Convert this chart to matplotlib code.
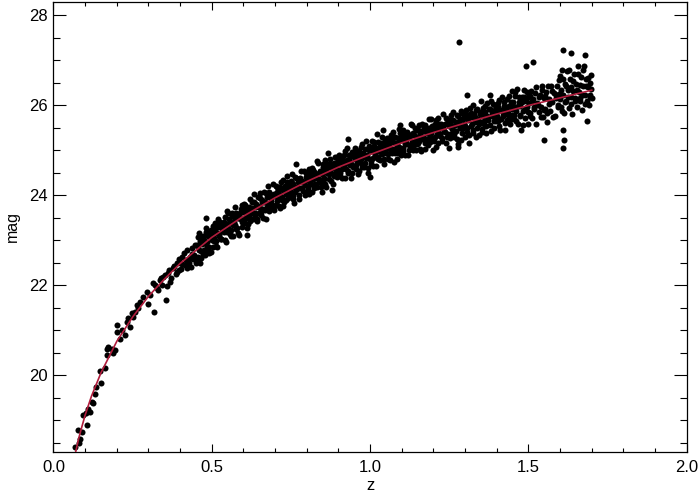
import numpy as np
import matplotlib
matplotlib.use("Agg")
import matplotlib.pyplot as plt
from matplotlib.ticker import MultipleLocator

# ---------------------------------------------------------------------------
# Data
# ---------------------------------------------------------------------------
# model curve (z, mag)
CURVE_Z = [0.065, 0.07, 0.08, 0.09, 0.10, 0.12, 0.15, 0.20, 0.25, 0.30, 0.35,
           0.40, 0.50, 0.60, 0.70, 0.80, 0.90, 1.00, 1.10, 1.20, 1.30, 1.40,
           1.50, 1.60, 1.70]
CURVE_MAG = [18.12, 18.29, 18.60, 18.86, 19.11, 19.53, 20.05, 20.75, 21.29,
             21.75, 22.13, 22.48, 23.06, 23.53, 23.94, 24.30, 24.62, 24.90,
             25.16, 25.39, 25.60, 25.80, 25.99, 26.16, 26.33]

# low redshift points
LOWZ = [
    (0.068, 18.41), (0.081, 18.48), (0.084, 18.59), (0.078, 18.78), (0.089, 18.74),
    (0.094, 19.11), (0.103, 19.15), (0.105, 18.89), (0.110, 19.24), (0.115, 19.18),
    (0.121, 19.41), (0.126, 19.37), (0.131, 19.59), (0.134, 19.74), (0.147, 20.10),
    (0.149, 19.82), (0.163, 20.15), (0.168, 20.59), (0.173, 20.63), (0.170, 20.44),
    (0.184, 20.59), (0.194, 20.56), (0.189, 20.48), (0.200, 21.11), (0.202, 20.96),
    (0.210, 20.81), (0.215, 21.00), (0.226, 20.89), (0.231, 21.18), (0.236, 21.26),
    (0.242, 21.07), (0.247, 21.37), (0.252, 21.30), (0.257, 21.41), (0.263, 21.56),
    (0.268, 21.48), (0.273, 21.63), (0.284, 21.74), (0.294, 21.85), (0.299, 21.59),
    (0.305, 21.78), (0.315, 22.04), (0.317, 21.41), (0.326, 21.93), (0.336, 22.11),
    (0.347, 22.18), (0.355, 21.67), (0.363, 22.26), (0.368, 22.07), (0.378, 22.37),
    (0.389, 22.30), (0.400, 22.48), (0.405, 22.63), (0.421, 22.37), (0.426, 22.56),
    (0.437, 22.70), (0.452, 22.56), (0.463, 22.48), (0.479, 22.67), (0.484, 22.78),
    (0.322, 22.00), (0.331, 21.88), (0.340, 22.16), (0.344, 22.00), (0.352, 22.22),
    (0.358, 21.98), (0.366, 22.33), (0.372, 22.15), (0.382, 22.42), (0.386, 22.25),
    (0.391, 22.50), (0.395, 22.33), (0.398, 22.58), (0.402, 22.36), (0.407, 22.47),
    (0.411, 22.71), (0.414, 22.44), (0.418, 22.56), (0.423, 22.79), (0.427, 22.49),
    (0.431, 22.62), (0.434, 22.41), (0.438, 22.83), (0.441, 22.58), (0.444, 22.66),
    (0.447, 22.90), (0.449, 22.50),
]

MIDZ_A = [
    (0.452, 22.89), (0.455, 22.63), (0.458, 23.07), (0.461, 22.79), (0.463, 22.99),
    (0.466, 22.60), (0.469, 22.92), (0.471, 23.10), (0.474, 22.79), (0.476, 23.01),
    (0.479, 22.74), (0.482, 23.26), (0.484, 22.95), (0.487, 23.11), (0.490, 22.85),
    (0.493, 23.07), (0.496, 22.74), (0.498, 23.23),
    (0.501, 23.13), (0.503, 22.85), (0.506, 23.28), (0.508, 23.04), (0.511, 23.39),
    (0.513, 22.98), (0.516, 23.16), (0.518, 22.84), (0.521, 23.29), (0.524, 23.09),
    (0.526, 23.40), (0.529, 23.02), (0.532, 23.25), (0.535, 23.21), (0.538, 23.40),
    (0.541, 23.01), (0.544, 23.36), (0.547, 23.18), (0.549, 23.65),
    (0.551, 23.26), (0.553, 23.46), (0.556, 23.13), (0.558, 23.40), (0.561, 23.22),
    (0.563, 23.60), (0.566, 23.09), (0.569, 23.40), (0.571, 23.51), (0.574, 23.33),
    (0.577, 23.61), (0.579, 23.27), (0.582, 23.49), (0.585, 23.12), (0.588, 23.61),
    (0.591, 23.46), (0.594, 23.77), (0.597, 23.40),
    (0.601, 23.62), (0.603, 23.37), (0.606, 23.77), (0.608, 23.51), (0.611, 23.60),
    (0.614, 23.35), (0.616, 23.74), (0.619, 23.51), (0.622, 23.92), (0.624, 23.62),
    (0.627, 23.72), (0.630, 23.47), (0.633, 23.84), (0.636, 23.61), (0.639, 23.74),
    (0.642, 23.42), (0.645, 23.95), (0.648, 23.60),
    (0.651, 23.72), (0.653, 23.93), (0.656, 23.55), (0.659, 23.85), (0.661, 23.69),
    (0.664, 24.06), (0.667, 23.66), (0.669, 23.85), (0.672, 23.46), (0.675, 23.96),
    (0.678, 23.80), (0.680, 24.06), (0.683, 23.69), (0.686, 23.94), (0.689, 23.79),
    (0.692, 24.24), (0.695, 23.66), (0.698, 24.03),
    (0.701, 23.99), (0.703, 23.79), (0.706, 24.18), (0.709, 23.91), (0.711, 24.11),
    (0.714, 23.72), (0.717, 24.01), (0.719, 24.29), (0.722, 23.90), (0.725, 24.11),
    (0.728, 23.84), (0.731, 24.21), (0.734, 24.03), (0.737, 24.43), (0.740, 23.94),
    (0.743, 24.15), (0.746, 24.02), (0.749, 24.31),
]

MIDZ_B = [
    (0.751, 24.07), (0.754, 24.27), (0.756, 23.92), (0.759, 24.19), (0.762, 24.40),
    (0.764, 24.06), (0.767, 24.68), (0.770, 24.17), (0.772, 24.30), (0.775, 23.91),
    (0.778, 24.39), (0.781, 24.15), (0.784, 24.31), (0.787, 24.08), (0.790, 24.53),
    (0.793, 24.23), (0.796, 24.41), (0.799, 24.05),
    (0.801, 24.33), (0.804, 24.12), (0.806, 24.50), (0.809, 24.26), (0.812, 24.43),
    (0.815, 24.07), (0.817, 24.60), (0.820, 24.35), (0.823, 24.51), (0.826, 24.25),
    (0.829, 24.44), (0.832, 24.17), (0.835, 24.72), (0.838, 24.36), (0.841, 24.54),
    (0.844, 24.28), (0.847, 24.47), (0.849, 24.06),
    (0.851, 24.62), (0.854, 24.38), (0.856, 24.52), (0.859, 24.25), (0.862, 24.71),
    (0.865, 24.49), (0.868, 24.62), (0.871, 24.36), (0.873, 24.81), (0.876, 24.48),
    (0.879, 24.62), (0.882, 24.25), (0.885, 24.72), (0.888, 24.47), (0.891, 24.60),
    (0.894, 24.84), (0.897, 24.41), (0.899, 24.70),
    (0.901, 24.56), (0.904, 24.82), (0.906, 24.49), (0.909, 24.70), (0.912, 24.39),
    (0.915, 24.79), (0.918, 24.64), (0.920, 24.98), (0.923, 24.58), (0.926, 24.77),
    (0.929, 24.49), (0.932, 24.88), (0.935, 24.67), (0.938, 24.74), (0.941, 24.38),
    (0.944, 24.96), (0.947, 24.63), (0.949, 24.87),
    (0.951, 24.80), (0.954, 24.59), (0.956, 25.01), (0.959, 24.72), (0.962, 24.91),
    (0.965, 24.53), (0.968, 24.87), (0.970, 24.81), (0.973, 25.14), (0.976, 24.69),
    (0.979, 24.93), (0.982, 24.63), (0.985, 25.02), (0.988, 24.83), (0.991, 24.89),
    (0.994, 24.50), (0.997, 25.09), (0.999, 24.80),
    (1.001, 25.03), (1.004, 24.75), (1.007, 24.97), (1.010, 24.64), (1.013, 25.19),
    (1.016, 24.89), (1.019, 25.04), (1.022, 25.36), (1.025, 24.84), (1.028, 24.99),
    (1.031, 24.78), (1.034, 25.16), (1.037, 24.92), (1.040, 25.07), (1.043, 24.68),
    (1.046, 25.23), (1.048, 25.00), (1.049, 25.14),
]

MIDZ_C = [
    (0.4535, 22.55), (0.457, 22.87), (0.460, 23.16), (0.4645, 22.76), (0.468, 23.06),
    (0.4725, 22.68), (0.477, 22.93), (0.4805, 23.19), (0.4855, 22.85), (0.489, 23.09),
    (0.4925, 22.72), (0.4955, 23.18), (0.4995, 23.01),
    (0.5025, 23.31), (0.5055, 22.99), (0.5095, 23.21), (0.5145, 22.86), (0.5195, 23.46),
    (0.5225, 23.14), (0.5275, 23.33), (0.5305, 23.02), (0.5365, 23.30), (0.5395, 23.17),
    (0.5425, 23.52), (0.5455, 22.95), (0.5485, 23.32),
    (0.5525, 23.60), (0.5545, 23.20), (0.5575, 23.41), (0.5605, 23.10), (0.5645, 23.54),
    (0.5675, 23.33), (0.5725, 23.73), (0.5755, 23.25), (0.5805, 23.54), (0.5835, 23.16),
    (0.5865, 23.49), (0.5925, 23.69), (0.5955, 23.30),
    (0.6025, 23.81), (0.6045, 23.46), (0.6075, 23.68), (0.6125, 23.27), (0.6175, 23.66),
    (0.6205, 23.42), (0.6255, 23.84), (0.6285, 23.61), (0.6345, 24.03), (0.6375, 23.54),
    (0.6405, 23.80), (0.6435, 23.47), (0.6465, 23.75),
    (0.6525, 24.05), (0.6545, 23.62), (0.6575, 23.89), (0.6625, 23.49), (0.6655, 23.84),
    (0.6705, 24.04), (0.6735, 23.73), (0.6765, 24.20), (0.6815, 23.64), (0.6845, 24.03),
    (0.6875, 23.87), (0.6935, 23.99), (0.6965, 23.75),
    (0.7025, 24.20), (0.7045, 23.86), (0.7075, 24.06), (0.7125, 23.76), (0.7155, 24.17),
    (0.7205, 23.96), (0.7235, 24.33), (0.7265, 23.75), (0.7325, 24.10), (0.7355, 23.90),
    (0.7385, 24.30), (0.7445, 24.02), (0.7475, 24.23),
    (0.7525, 24.46), (0.7555, 23.99), (0.7575, 24.24), (0.7605, 23.82), (0.7655, 24.38),
    (0.7685, 24.13), (0.7735, 24.35), (0.7765, 24.01), (0.7825, 24.54), (0.7855, 24.15),
    (0.7885, 24.29), (0.7945, 24.01), (0.7975, 24.48),
    (0.8025, 24.19), (0.8055, 24.58), (0.8075, 24.02), (0.8105, 24.39), (0.8135, 24.25),
    (0.8185, 24.56), (0.8215, 24.16), (0.8245, 24.50), (0.8305, 24.38), (0.8335, 24.76),
    (0.8395, 24.29), (0.8425, 24.51), (0.8455, 24.19),
    (0.8525, 24.69), (0.8555, 24.35), (0.8575, 24.78), (0.8605, 24.17), (0.8635, 24.61),
    (0.8695, 24.47), (0.8725, 24.70), (0.8775, 24.32), (0.8805, 24.60), (0.8865, 24.43),
    (0.8895, 24.84), (0.8925, 24.52), (0.8955, 24.74),
    (0.9025, 24.89), (0.9055, 24.42), (0.9075, 24.74), (0.9105, 24.57), (0.9165, 24.88),
    (0.9195, 24.37), (0.9245, 24.72), (0.9275, 25.05), (0.9305, 24.54), (0.9365, 24.84),
    (0.9395, 24.68), (0.9425, 24.49), (0.9485, 24.93),
    (0.9525, 25.05), (0.9555, 24.67), (0.9575, 24.85), (0.9605, 24.47), (0.9635, 24.99),
    (0.9665, 24.77), (0.9715, 25.07), (0.9745, 24.63), (0.9775, 24.86), (0.9835, 24.72),
    (0.9865, 25.20), (0.9925, 24.61), (0.9955, 25.00),
    (1.0025, 24.69), (1.0055, 25.20), (1.0085, 24.83), (1.0115, 25.08), (1.0175, 24.64),
    (1.0205, 24.99), (1.0235, 25.18), (1.0265, 24.81), (1.0325, 25.08), (1.0355, 24.96),
    (1.0385, 25.30), (1.0445, 24.81), (1.0475, 25.09),
]

HIGHZ_A = [
    (1.051, 24.94), (1.054, 25.19), (1.057, 24.81), (1.060, 25.10), (1.063, 25.03),
    (1.066, 25.34), (1.069, 24.93), (1.072, 25.19), (1.075, 24.73), (1.078, 25.29),
    (1.081, 25.05), (1.084, 25.13), (1.087, 24.94), (1.090, 25.46), (1.093, 25.03),
    (1.096, 25.23), (1.099, 24.89), (1.098, 25.30),
    (1.101, 25.22), (1.104, 25.04), (1.107, 25.40), (1.110, 24.88), (1.113, 25.22),
    (1.116, 25.13), (1.119, 25.36), (1.122, 25.00), (1.125, 25.31), (1.128, 25.59),
    (1.131, 25.19), (1.134, 25.07), (1.137, 25.37), (1.140, 25.17), (1.143, 25.50),
    (1.146, 25.01), (1.148, 25.29), (1.149, 25.14),
    (1.151, 25.45), (1.154, 25.21), (1.157, 25.35), (1.160, 24.98), (1.163, 25.59),
    (1.166, 25.30), (1.169, 25.42), (1.172, 25.15), (1.175, 25.55), (1.178, 25.24),
    (1.181, 25.39), (1.184, 25.12), (1.187, 25.50), (1.190, 25.32), (1.193, 25.68),
    (1.196, 25.23), (1.198, 25.46), (1.199, 25.01),
    (1.201, 25.50), (1.204, 25.28), (1.207, 25.66), (1.210, 25.35), (1.213, 25.44),
    (1.216, 25.16), (1.219, 25.59), (1.222, 25.35), (1.225, 25.51), (1.228, 25.26),
    (1.231, 25.80), (1.234, 25.43), (1.237, 25.59), (1.240, 25.15), (1.243, 25.68),
    (1.246, 25.36), (1.248, 25.53), (1.249, 25.05),
    (1.251, 25.58), (1.254, 25.35), (1.257, 25.78), (1.260, 25.47), (1.263, 25.67),
    (1.266, 25.28), (1.269, 25.56), (1.272, 25.43), (1.275, 25.77), (1.278, 25.14),
    (1.281, 25.62), (1.284, 25.49), (1.287, 25.87), (1.290, 25.38), (1.293, 25.70),
    (1.296, 25.57), (1.298, 25.77), (1.299, 25.30),
    (1.301, 25.54), (1.304, 25.80), (1.307, 25.40), (1.310, 25.66), (1.313, 25.15),
    (1.316, 25.94), (1.319, 25.54), (1.322, 25.73), (1.325, 25.37), (1.328, 25.81),
    (1.331, 25.63), (1.334, 25.90), (1.337, 25.50), (1.340, 25.69), (1.343, 25.34),
    (1.346, 25.81), (1.348, 25.62), (1.349, 26.08),
]

HIGHZ_B = [
    (1.351, 25.80), (1.354, 25.47), (1.357, 25.76), (1.360, 25.59), (1.363, 25.99),
    (1.366, 25.37), (1.369, 25.76), (1.372, 25.67), (1.375, 25.92), (1.378, 25.56),
    (1.381, 26.09), (1.384, 25.75), (1.387, 25.86), (1.390, 25.49), (1.393, 26.00),
    (1.396, 25.68), (1.398, 25.86), (1.399, 25.64),
    (1.401, 25.76), (1.404, 26.05), (1.407, 25.54), (1.410, 25.90), (1.413, 25.69),
    (1.416, 26.18), (1.419, 25.83), (1.422, 25.98), (1.425, 25.45), (1.428, 25.89),
    (1.431, 25.67), (1.434, 26.14), (1.437, 25.79), (1.440, 25.99), (1.443, 25.58),
    (1.446, 26.07), (1.448, 25.78), (1.449, 26.32),
    (1.451, 25.97), (1.454, 25.69), (1.457, 26.20), (1.460, 25.86), (1.463, 26.36),
    (1.466, 25.58), (1.469, 26.07), (1.472, 25.79), (1.475, 25.97), (1.478, 25.45),
    (1.481, 26.18), (1.484, 25.87), (1.487, 26.33), (1.490, 25.71), (1.493, 26.08),
    (1.496, 25.95), (1.498, 26.18), (1.499, 25.58),
    (1.502, 26.04), (1.505, 25.82), (1.508, 26.31), (1.511, 25.71), (1.514, 26.14),
    (1.517, 25.95), (1.520, 26.27), (1.524, 25.59), (1.528, 26.05), (1.532, 25.84),
    (1.536, 26.22), (1.540, 25.95), (1.544, 26.42), (1.547, 25.74), (1.549, 26.16),
    (1.552, 25.92), (1.556, 26.30), (1.560, 25.62), (1.564, 26.13), (1.568, 25.86),
    (1.572, 26.42), (1.576, 26.06), (1.580, 26.27), (1.584, 25.76), (1.588, 26.23),
    (1.592, 25.96), (1.596, 26.55), (1.599, 26.14),
    (1.601, 26.64), (1.603, 25.96), (1.606, 26.79), (1.609, 26.23), (1.612, 25.83),
    (1.615, 26.46), (1.618, 26.10), (1.621, 26.75), (1.624, 26.33), (1.627, 25.93),
    (1.630, 26.57), (1.633, 26.18), (1.636, 26.40), (1.639, 25.80), (1.642, 26.32),
    (1.645, 26.69), (1.648, 26.10),
    (1.651, 26.47), (1.654, 25.95), (1.657, 26.86), (1.660, 26.30), (1.663, 26.15),
    (1.666, 26.62), (1.669, 25.88), (1.672, 26.43), (1.675, 26.87), (1.678, 26.22),
    (1.681, 26.57), (1.684, 26.08), (1.687, 26.40), (1.690, 26.00), (1.693, 26.50),
    (1.696, 26.22), (1.699, 26.66), (1.700, 26.15),
]

HIGHZ_C = [
    (1.0525, 25.27), (1.0555, 24.92), (1.0585, 25.14), (1.0615, 24.78), (1.0675, 25.24),
    (1.0705, 25.03), (1.0735, 25.40), (1.0795, 24.93), (1.0825, 25.16), (1.0855, 24.80),
    (1.0885, 25.27), (1.0915, 25.06), (1.0945, 25.38),
    (1.1025, 25.45), (1.1055, 24.98), (1.1085, 25.30), (1.1115, 25.13), (1.1175, 25.40),
    (1.1205, 24.88), (1.1235, 25.28), (1.1265, 25.10), (1.1325, 25.56), (1.1355, 25.01),
    (1.1385, 25.34), (1.1445, 25.23), (1.1475, 25.44),
    (1.1525, 25.15), (1.1555, 25.55), (1.1585, 25.03), (1.1615, 25.42), (1.1645, 25.25),
    (1.1705, 25.52), (1.1735, 25.03), (1.1795, 25.42), (1.1825, 25.24), (1.1855, 25.69),
    (1.1885, 25.17), (1.1915, 25.39), (1.1945, 25.54),
    (1.2025, 25.20), (1.2055, 25.59), (1.2085, 25.06), (1.2115, 25.50), (1.2145, 25.72),
    (1.2205, 25.31), (1.2235, 25.57), (1.2265, 25.21), (1.2295, 25.48), (1.2355, 25.40),
    (1.2385, 25.72), (1.2415, 25.30), (1.2445, 25.59),
    (1.2525, 25.26), (1.2555, 25.67), (1.2585, 25.50), (1.2615, 25.85), (1.2645, 25.36),
    (1.2705, 25.63), (1.2735, 25.25), (1.2765, 25.75), (1.2825, 25.52), (1.2855, 25.69),
    (1.2885, 25.22), (1.2915, 25.83), (1.2945, 25.49),
    (1.3025, 25.88), (1.3055, 25.48), (1.3085, 25.73), (1.3115, 25.33), (1.3175, 25.82),
    (1.3205, 25.59), (1.3235, 26.01), (1.3265, 25.45), (1.3325, 25.73), (1.3355, 25.30),
    (1.3385, 25.91), (1.3445, 25.58), (1.3475, 25.84),
    (1.3525, 25.41), (1.3555, 25.93), (1.3585, 25.64), (1.3615, 25.84), (1.3675, 25.53),
    (1.3705, 26.04), (1.3735, 25.73), (1.3795, 25.92), (1.3825, 25.42), (1.3855, 25.82),
    (1.3885, 26.03), (1.3915, 25.64), (1.3945, 25.89),
    (1.4025, 25.95), (1.4055, 25.65), (1.4085, 26.12), (1.4115, 25.44), (1.4175, 25.89),
    (1.4205, 25.75), (1.4235, 26.07), (1.4265, 25.60), (1.4325, 25.96), (1.4355, 25.83),
    (1.4385, 26.21), (1.4445, 25.68), (1.4475, 25.91),
    (1.4525, 26.06), (1.4555, 25.79), (1.4585, 26.30), (1.4615, 25.64), (1.4675, 25.97),
    (1.4705, 26.19), (1.4735, 25.75), (1.4795, 26.07), (1.4825, 25.56), (1.4855, 26.18),
    (1.4885, 25.91), (1.4945, 26.28), (1.4975, 25.84),
    (1.5035, 26.20), (1.5065, 25.75), (1.5125, 26.10), (1.5185, 25.91), (1.5225, 26.40),
    (1.5305, 26.00), (1.5345, 26.19), (1.5385, 25.73), (1.5425, 26.33), (1.5485, 25.90),
    (1.5535, 26.20), (1.5585, 25.83), (1.5625, 26.43), (1.5665, 26.03), (1.5745, 26.31),
    (1.5785, 25.73), (1.5865, 26.16), (1.5905, 26.42), (1.5945, 26.00), (1.5975, 26.24),
    (1.6045, 26.33), (1.6075, 25.87), (1.6105, 26.58), (1.6165, 26.07), (1.6195, 26.42),
    (1.6255, 26.18), (1.6285, 26.79), (1.6345, 26.02), (1.6405, 26.53), (1.6465, 26.16),
    (1.6525, 26.33), (1.6555, 26.68), (1.6615, 26.09), (1.6645, 26.45), (1.6705, 26.23),
    (1.6735, 26.79), (1.6795, 26.03), (1.6825, 26.42), (1.6885, 26.61), (1.6945, 26.18),
    (1.6975, 26.36),
]

OUTLIERS = [
    (1.281, 27.40), (1.494, 26.87), (1.515, 26.96), (1.610, 27.22), (1.634, 27.16),
    (1.678, 27.12), (1.549, 25.22), (1.612, 25.22), (1.610, 25.04), (1.686, 25.64),
    (1.608, 25.44), (1.279, 25.07), (0.482, 23.48), (0.999, 24.41), (1.305, 26.22),
    (1.379, 26.22), (1.042, 25.44), (1.094, 25.56), (0.931, 25.24), (0.868, 24.94),
    (0.879, 24.11), (0.610, 23.11),
]

LINE_COLOR = "#b01c3c"

# ---------------------------------------------------------------------------
# Plot
# ---------------------------------------------------------------------------
plt.rcParams["font.family"] = ["Liberation Sans", "DejaVu Sans"]

fig = plt.figure(figsize=(7, 5), dpi=100)
ax = fig.add_axes([0.0764, 0.096, 0.9046, 0.9])

pts = np.array(LOWZ + MIDZ_A + MIDZ_B + MIDZ_C + HIGHZ_A + HIGHZ_B + HIGHZ_C + OUTLIERS)
ax.scatter(pts[:, 0], pts[:, 1], s=19, c="black", linewidths=0, zorder=2)
ax.plot(CURVE_Z, CURVE_MAG, color=LINE_COLOR, lw=1.2, zorder=3)

ax.set_xlim(0.0, 2.0)
ax.set_ylim(18.29, 28.29)
ax.xaxis.set_major_locator(MultipleLocator(0.5))
ax.xaxis.set_minor_locator(MultipleLocator(0.1))
ax.yaxis.set_major_locator(MultipleLocator(2))
ax.yaxis.set_minor_locator(MultipleLocator(0.5))
ax.xaxis.set_major_formatter(plt.FormatStrFormatter("%.1f"))

ax.tick_params(axis="both", which="both", direction="in", top=True, right=True,
               width=0.8, labelsize=12)
ax.tick_params(axis="x", which="major", length=5.8, pad=6)
ax.tick_params(axis="x", which="minor", length=3)
ax.tick_params(axis="y", which="major", length=9.4, pad=4)
ax.tick_params(axis="y", which="minor", length=5)
for sp in ax.spines.values():
    sp.set_linewidth(0.9)

ax.set_xlabel("z", fontsize=12, labelpad=2)
ax.set_ylabel("mag", fontsize=11.5, labelpad=7)

fig.savefig("out.png", dpi=100)
